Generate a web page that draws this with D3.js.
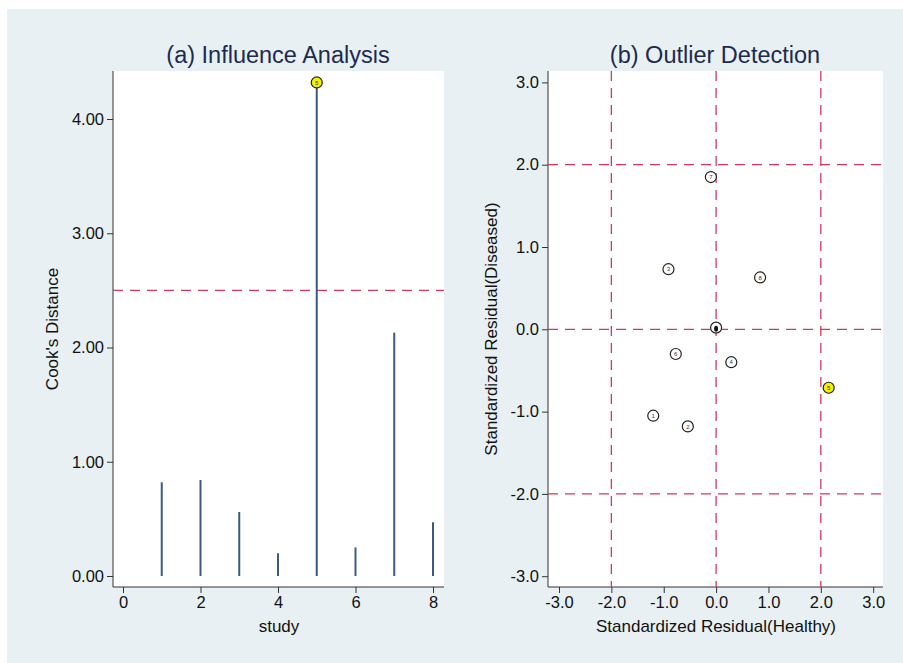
<!DOCTYPE html>
<html><head><meta charset="utf-8">
<script src="https://cdn.jsdelivr.net/npm/d3@7"></script>
<style>
body{margin:0;background:#fff;}
text{font-family:"Liberation Sans",Arial,Helvetica,sans-serif;}
</style></head>
<body><svg id="c" width="903" height="663"></svg>
<script>
// Panel (a): Cook's distance per study
const studies = [1,2,3,4,5,6,7,8];
const cooksD = [0.82,0.84,0.56,0.20,4.32,0.25,2.13,0.47];
const cookThreshold = 2.5;
const cookYTicks = [0,1,2,3,4];
const studyXTicks = [0,2,4,6,8];

// Panel (b): standardized residuals
const pointLabels = ["1","2","3","4","5","6","7","8",""];
const residHealthy = [-1.20,-0.54,-0.91,0.29,2.15,-0.77,-0.10,0.84,0.00];
const residDiseased = [-1.05,-1.18,0.73,-0.40,-0.71,-0.30,1.85,0.63,0.02];
const residTicks = [-3,-2,-1,0,1,2,3];
const residRefLines = [-2,0,2];

const svg = d3.select("#c");
svg.append("rect").attr("x",7).attr("y",9).attr("width",896).attr("height",654).attr("fill","#e8f0f3");

const titleColor = "#1c2a52";
const dashColor = "#d8365f";
const stemColor = "#3a5a84";
const fmt2 = d=>d3.format(".2f")(d).replace("\u2212","-");
const fmt1 = d=>d3.format(".1f")(d).replace("\u2212","-");

// ---------- Panel A ----------
const A = {l:113, r:444, t:71, b:587};
svg.append("rect").attr("x",A.l).attr("y",A.t).attr("width",A.r-A.l).attr("height",A.b-A.t).attr("fill","#fff");
const xa = d3.scaleLinear().domain([0,8]).range([123,433]);
const ya = d3.scaleLinear().domain([0,4]).range([576,119]);

svg.append("g").attr("transform",`translate(${A.l},0)`)
  .call(d3.axisLeft(ya).tickValues(cookYTicks).tickFormat(fmt2).tickSizeOuter(0).tickSize(6).tickPadding(3))
  .call(g=>g.select(".domain").attr("d",`M0,${A.t}V${A.b}`));
svg.append("g").attr("transform",`translate(0,${A.b})`)
  .call(d3.axisBottom(xa).tickValues(studyXTicks).tickFormat(d3.format("d")).tickSizeOuter(0).tickSize(6).tickPadding(3))
  .call(g=>g.select(".domain").attr("d",`M${A.l},0H${A.r}`));

svg.append("line").attr("x1",A.l).attr("x2",A.r).attr("y1",ya(cookThreshold)).attr("y2",ya(cookThreshold))
  .attr("stroke",dashColor).attr("stroke-width",1.3).attr("stroke-dasharray","10,7");

svg.append("g").selectAll("line").data(studies).join("line")
  .attr("x1",d=>xa(d)).attr("x2",d=>xa(d)).attr("y1",ya(0)).attr("y2",(d,i)=>ya(cooksD[i]))
  .attr("stroke",stemColor).attr("stroke-width",2);

const maxI = d3.maxIndex(cooksD);
svg.append("circle").attr("cx",xa(studies[maxI])).attr("cy",ya(cooksD[maxI])).attr("r",5.5)
  .attr("fill","#f5f000").attr("stroke","#222").attr("stroke-width",1.2);
svg.append("text").attr("x",xa(studies[maxI])).attr("y",ya(cooksD[maxI])+2.2).attr("text-anchor","middle")
  .attr("font-size",6).attr("fill","#333").text(studies[maxI]);

svg.append("text").attr("x",278).attr("y",63).attr("text-anchor","middle").attr("font-size",23.5).attr("fill",titleColor).text("(a) Influence Analysis");
svg.append("text").attr("x",279).attr("y",632).attr("text-anchor","middle").attr("font-size",17).attr("fill","#111").text("study");
svg.append("text").attr("transform","translate(58,329) rotate(-90)").attr("text-anchor","middle").attr("font-size",17).attr("fill","#111").text("Cook's Distance");

// ---------- Panel B ----------
const B = {l:548, r:883, t:71, b:587};
svg.append("rect").attr("x",B.l).attr("y",B.t).attr("width",B.r-B.l).attr("height",B.b-B.t).attr("fill","#fff");
const xb = d3.scaleLinear().domain([-3,3]).range([559,873.2]);
const yb = d3.scaleLinear().domain([-3,3]).range([576.2,82.4]);

svg.append("g").attr("transform",`translate(${B.l},0)`)
  .call(d3.axisLeft(yb).tickValues(residTicks).tickFormat(fmt1).tickSizeOuter(0).tickSize(6).tickPadding(3))
  .call(g=>g.select(".domain").attr("d",`M0,${B.t}V${B.b}`));
svg.append("g").attr("transform",`translate(0,${B.b})`)
  .call(d3.axisBottom(xb).tickValues(residTicks).tickFormat(fmt1).tickSizeOuter(0).tickSize(6).tickPadding(3))
  .call(g=>g.select(".domain").attr("d",`M${B.l},0H${B.r}`));

const refG = svg.append("g").attr("stroke",dashColor).attr("stroke-width",1.3).attr("stroke-dasharray","10,7");
refG.selectAll("line.h").data(residRefLines).join("line").attr("class","h")
  .attr("x1",B.l).attr("x2",B.r).attr("y1",d=>yb(d)).attr("y2",d=>yb(d));
refG.selectAll("line.v").data(residRefLines).join("line").attr("class","v")
  .attr("y1",B.t).attr("y2",B.b).attr("x1",d=>xb(d)).attr("x2",d=>xb(d));

const pts = pointLabels.map((l,i)=>({l, x:residHealthy[i], y:residDiseased[i]}));
const pg = svg.append("g").selectAll("g").data(pts).join("g")
  .attr("transform",d=>`translate(${xb(d.x)},${yb(d.y)})`);
pg.append("circle").attr("r",5.5)
  .attr("fill",d=>d.l===String(studies[maxI])?"#f5f000":"#fff")
  .attr("stroke","#222").attr("stroke-width",1.2);
pg.filter(d=>d.l!=="").append("text").attr("y",2.2).attr("text-anchor","middle").attr("font-size",6).attr("fill","#333").text(d=>d.l);
pg.filter(d=>d.l==="").append("ellipse").attr("cx",0).attr("cy",1).attr("rx",2).attr("ry",3).attr("fill","#111");

svg.append("text").attr("x",715).attr("y",63).attr("text-anchor","middle").attr("font-size",23.5).attr("fill",titleColor).text("(b) Outlier Detection");
svg.append("text").attr("x",716).attr("y",632).attr("text-anchor","middle").attr("font-size",17).attr("fill","#111").text("Standardized Residual(Healthy)");
svg.append("text").attr("transform","translate(497,329) rotate(-90)").attr("text-anchor","middle").attr("font-size",17).attr("fill","#111").text("Standardized Residual(Diseased)");

svg.selectAll(".tick text").attr("font-size",16.5).attr("fill","#111").attr("font-family","'Liberation Sans',Arial,sans-serif");
svg.selectAll(".tick line, .domain").attr("stroke","#333");
</script></body></html>
